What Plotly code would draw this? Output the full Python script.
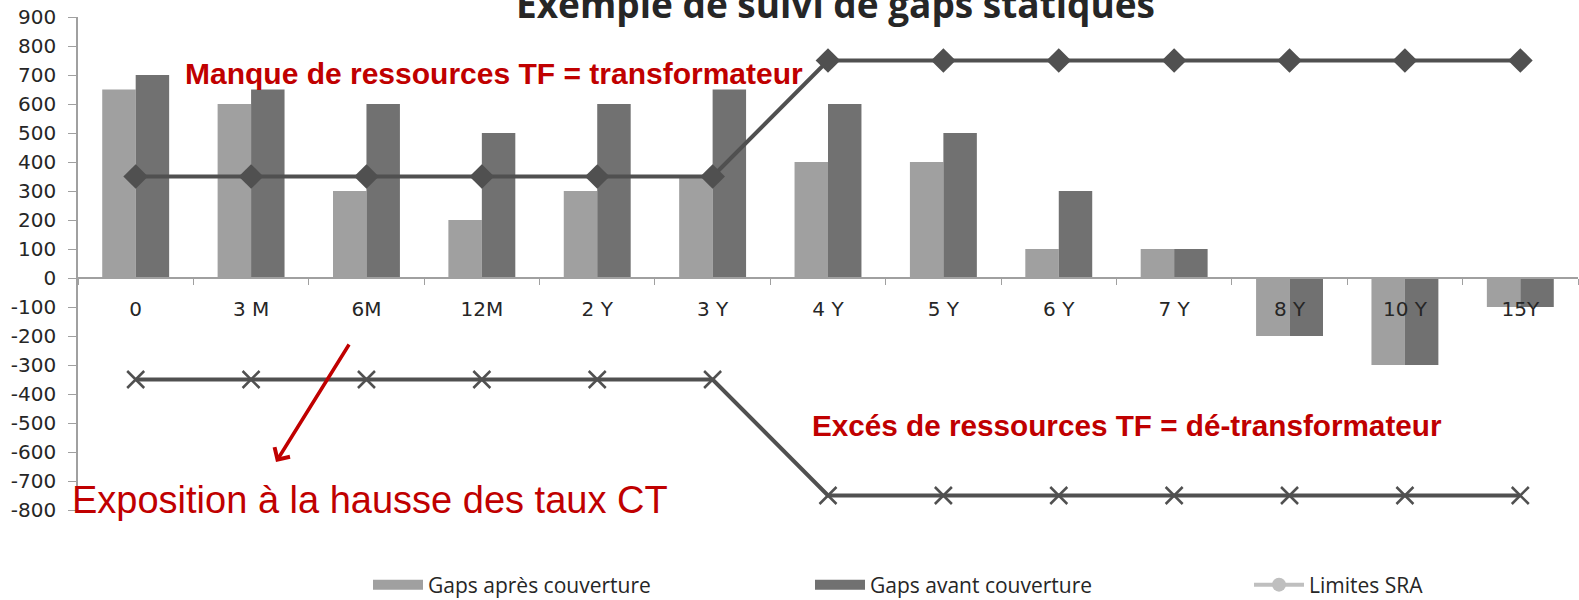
import plotly.graph_objects as go

categories = ["0", "3 M", "6M", "12M", "2 Y", "3 Y", "4 Y", "5 Y", "6 Y", "7 Y", "8 Y", "10 Y", "15Y"]
gaps_apres = [650, 600, 300, 200, 300, 350, 400, 400, 100, 100, -200, -300, -100]
gaps_avant = [700, 650, 600, 500, 600, 650, 600, 500, 300, 100, -200, -300, -100]
limite_haute = [350, 350, 350, 350, 350, 350, 750, 750, 750, 750, 750, 750, 750]
limite_basse = [-350, -350, -350, -350, -350, -350, -750, -750, -750, -750, -750, -750, -750]
y_tick_vals = [900, 800, 700, 600, 500, 400, 300, 200, 100, 0,
               -100, -200, -300, -400, -500, -600, -700, -800]
y_tick_text = ["900", "800", "700", "600", "500", "400", "300", "200", "100", "0",
               "-100", "-200", "-300", "-400", "-500", "-600", "-700", "-800"]

W, H = 1579, 600
ML, MR, MT, MB = 78, 1, 17, 90
PW, PH = W - ML - MR, H - MT - MB


def px(x):
    return (x - ML) / PW


def py(y):
    return (H - MB - y) / PH


LIGHT = "#A0A0A0"
DARK = "#717171"
LINE = "#505050"
RED = "#C00000"

fig = go.Figure()
fig.add_trace(go.Bar(x=categories, y=gaps_apres, name="Gaps après couverture",
                     marker=dict(color=LIGHT, line=dict(width=0)), showlegend=False))
fig.add_trace(go.Bar(x=categories, y=gaps_avant, name="Gaps avant couverture",
                     marker=dict(color=DARK, line=dict(width=0)), showlegend=False))
fig.add_trace(go.Scatter(x=categories, y=limite_haute, mode="lines+markers", showlegend=False,
                         line=dict(color=LINE, width=4),
                         marker=dict(symbol="diamond", size=19, color=LINE)))
fig.add_trace(go.Scatter(x=categories, y=limite_basse, mode="lines+markers", showlegend=False,
                         line=dict(color=LINE, width=4),
                         marker=dict(symbol="x-thin", size=17, color=LINE,
                                     line=dict(color=LINE, width=2.5))))
# legend entries
fig.add_trace(go.Scatter(x=[None], y=[None], mode="lines", name="Gaps après couverture",
                         line=dict(color=LIGHT, width=13), legend="legend"))
fig.add_trace(go.Scatter(x=[None], y=[None], mode="lines", name="Gaps avant couverture",
                         line=dict(color=DARK, width=13), legend="legend2"))
fig.add_trace(go.Scatter(x=[None], y=[None], mode="lines+markers", name="Limites SRA",
                         line=dict(color="#BFBFBF", width=4),
                         marker=dict(symbol="circle", size=14, color="#BFBFBF"), legend="legend3"))

tick_font = dict(family="DejaVu Sans", size=20, color="#262626")
leg_font = dict(family="Open Sans", size=21, color="#262626")


def leg(xpix):
    return dict(orientation="h", x=px(xpix), xanchor="left", y=py(585), yanchor="middle",
                font=leg_font, itemwidth=50, bgcolor="rgba(0,0,0,0)")


fig.update_layout(
    width=W, height=H,
    margin=dict(l=ML, r=MR, t=MT, b=MB, autoexpand=False),
    paper_bgcolor="white", plot_bgcolor="white",
    barmode="group", bargap=0.42, bargroupgap=0,
    xaxis=dict(type="category", range=[-0.5, 12.5], anchor="free", position=800 / 1700,
               showline=True, linecolor="#A0A0A0", linewidth=1.5,
               ticks="outside", tickson="boundaries", ticklen=6, tickcolor="#A0A0A0",
               showgrid=False, zeroline=False, tickfont=tick_font, ticklabelstandoff=13),
    yaxis=dict(range=[-800, 900], tickmode="array", tickvals=y_tick_vals, ticktext=y_tick_text,
               showline=True, linecolor="#A0A0A0", ticklabeloverflow="allow",
               linewidth=1.5, ticks="outside", ticklen=8, tickcolor="#A0A0A0",
               showgrid=False, zeroline=False, tickfont=tick_font, ticklabelstandoff=8),
    legend=leg(368), legend2=leg(810), legend3=leg(1249),
    annotations=[
        dict(text="<b>Exemple de suivi de gaps statiques</b>", xref="paper", yref="paper",
             x=px(835), y=py(4), xanchor="center", yanchor="middle", showarrow=False,
             font=dict(family="Open Sans", size=37, color="#262626")),
        dict(text="<b>Manque de ressources TF = transformateur</b>", xref="paper", yref="paper",
             x=px(183), y=py(73), xanchor="left", yanchor="middle", showarrow=False,
             font=dict(family="Liberation Sans", size=30, color=RED)),
        dict(text="<b>Excés de ressources TF = dé-transformateur</b>", xref="paper", yref="paper",
             x=px(810), y=py(425), xanchor="left", yanchor="middle", showarrow=False,
             font=dict(family="Liberation Sans", size=29.7, color=RED)),
        dict(text="Exposition à la hausse des taux CT", xref="paper", yref="paper",
             x=px(70), y=py(500), xanchor="left", yanchor="middle", showarrow=False,
             font=dict(family="Liberation Sans", size=38, color=RED)),
        dict(text="", xref="paper", yref="paper", x=px(276), y=py(462),
             ax=350 - 276, ay=343 - 462, showarrow=True, arrowhead=4, arrowsize=1,
             arrowwidth=3.5, arrowcolor=RED),
    ],
)

fig.write_html("out.html", config={"displayModeBar": False},
               post_script="document.body.style.margin='0';document.body.style.overflow='hidden';")
